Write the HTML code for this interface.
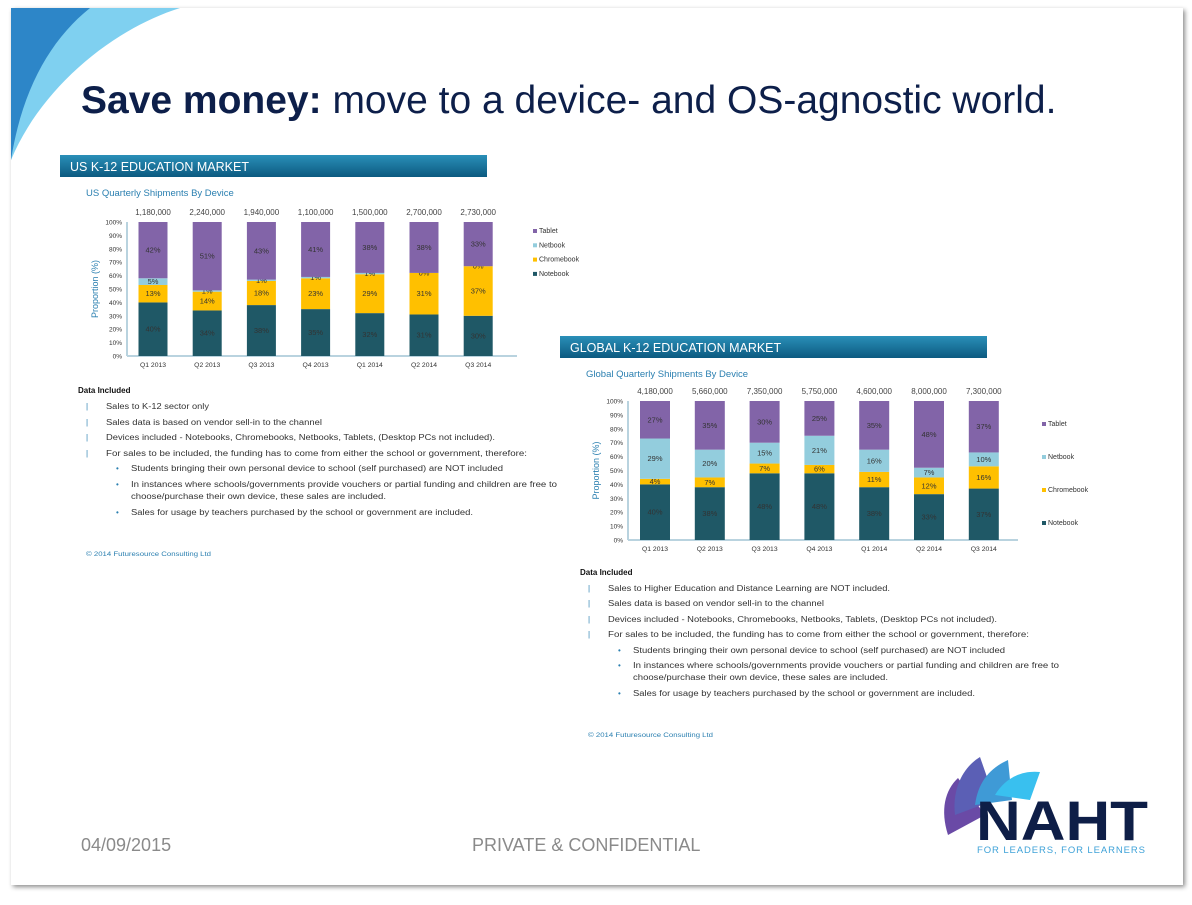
<!DOCTYPE html>
<html><head><meta charset="utf-8">
<style>
html,body{margin:0;padding:0;background:#fff;}
body{width:1192px;height:900px;overflow:hidden;font-family:"Liberation Sans",sans-serif;}
svg text{font-family:"Liberation Sans",sans-serif;}
</style></head>
<body>
<svg id="slide" width="1192" height="900" viewBox="0 0 1192 900" xmlns="http://www.w3.org/2000/svg">
<defs>
 <linearGradient id="hdr" x1="0" y1="0" x2="0" y2="1"><stop offset="0" stop-color="#2a8fb8"/><stop offset="1" stop-color="#0c5a80"/></linearGradient>
 <filter id="sh" x="-5%" y="-5%" width="110%" height="110%"><feDropShadow dx="2" dy="2" stdDeviation="2.5" flood-color="#000" flood-opacity="0.45"/></filter>
</defs>
<rect x="0" y="0" width="1192" height="900" fill="#ffffff"/>
<rect x="11" y="8" width="1172" height="877" fill="#fff" filter="url(#sh)"/>
<g>
 <path d="M11 8 L180 8 C110 30 40 90 11 160 Z" fill="#7fd0f0"/>
 <path d="M11 8 L90 8 C50 40 22 90 11 160 Z" fill="#2d86c8"/>
</g>
<text x="81" y="113" font-size="39" fill="#0d1f4a"><tspan font-weight="bold">Save money:</tspan> move to a device- and OS-agnostic world.</text>

<g id="us"></g>
<g id="gl"></g>
<g id="notes"></g>

<text x="81" y="851" font-size="18" fill="#8a8a8a">04/09/2015</text>
<text x="472" y="851" font-size="18" fill="#8a8a8a">PRIVATE &amp; CONFIDENTIAL</text>
<g>
 <path d="M948 835 C940 810 945 790 958 778 L985 815 Z" fill="#6a4aa6"/>
 <path d="M955 815 C952 790 962 768 980 757 L995 800 Z" fill="#5b5fb5"/>
 <path d="M975 805 C978 782 990 768 1008 760 L1012 800 Z" fill="#3f9ad6"/>
 <path d="M995 795 C1005 778 1022 770 1040 772 L1030 800 Z" fill="#39c0ef"/>
 <text x="976" y="840" font-size="56" font-weight="bold" fill="#0e1e47" textLength="172" lengthAdjust="spacingAndGlyphs">NAHT</text>
 <text x="977" y="853" font-size="9.5" fill="#3ea2d8" textLength="168">FOR LEADERS, FOR LEARNERS</text>
</g>
</svg>
<script>
const NS="http://www.w3.org/2000/svg";
const quarters=["Q1 2013","Q2 2013","Q3 2013","Q4 2013","Q1 2014","Q2 2014","Q3 2014"];
const usTotals=["1,180,000","2,240,000","1,940,000","1,100,000","1,500,000","2,700,000","2,730,000"];
const usNotebook=[40,34,38,35,32,31,30];
const usChromebook=[13,14,18,23,29,31,37];
const usNetbook=[5,1,1,1,1,0,0];
const usTablet=[42,51,43,41,38,38,33];
const glTotals=["4,180,000","5,660,000","7,350,000","5,750,000","4,600,000","8,000,000","7,300,000"];
const glNotebook=[40,38,48,48,38,33,37];
const glChromebook=[4,7,7,6,11,12,16];
const glNetbook=[29,20,15,21,16,7,10];
const glTablet=[27,35,30,25,35,48,37];
const seriesNames=["Notebook","Chromebook","Netbook","Tablet"];
const seriesColors=["#1f5866","#ffc000","#93cddd","#8264a8"];
const yTicks=[0,10,20,30,40,50,60,70,80,90,100];

function mk(tag,attrs,parent,txt){const e=document.createElementNS(NS,tag);for(const k in attrs)e.setAttribute(k,attrs[k]);if(txt!==undefined)e.textContent=txt;parent.appendChild(e);return e;}

function drawChart(g,cfg,series,totals){
  const y=v=>cfg.y0-(cfg.y0-cfg.y100)*v/100;
  const x=i=>cfg.x0+cfg.step*i;
  const h=mk('rect',{x:cfg.hx,y:cfg.hy,width:427,height:22,fill:'url(#hdr)'},g);
  
  
  const ht=mk('text',{x:cfg.hx+10,y:cfg.hy+16,'font-size':12.5,fill:'#fff'},g,cfg.title);
  
  
  const st=mk('text',{x:cfg.hx+26,y:cfg.hy+41,'font-size':9.5,fill:'#2a7fb0'},g,cfg.sub);
  
  
  yTicks.forEach(t=>{const tt=mk('text',{x:cfg.ax-5,y:y(t)+2.5,'font-size':6.5,'text-anchor':'end',fill:'#333'},g,t+'%');
    
    });
  const yl=mk('text',{transform:`translate(${cfg.ax-29},${(cfg.y0+cfg.y100)/2}) rotate(-90)`,'font-size':9,'text-anchor':'middle',fill:'#2a7fb0'},g,'Proportion (%)');
  
  
  const a1=mk('line',{x1:cfg.ax,y1:cfg.y100,x2:cfg.ax,y2:cfg.y0,stroke:'#b9d3df','stroke-width':2},g);
  
  
  const a2=mk('line',{x1:cfg.ax,y1:cfg.y0,x2:cfg.ax+390,y2:cfg.y0,stroke:'#b9d3df','stroke-width':2},g);
  
  
  quarters.forEach((q,i)=>{
    let cum=0;
    series.forEach((s,si)=>{
      const v=s[i];const top=y(cum+v),bot=y(cum);
      const r=mk('rect',{x:x(i)-cfg.bw/2,y:top,width:cfg.bw,height:Math.max(0,bot-top),fill:seriesColors[si]},g);
      
      
      const lt=mk('text',{x:x(i),y:(top+bot)/2+2.5,'font-size':7.5,'text-anchor':'middle',fill:'#333'},g,v+'%');
      
      
      cum+=v;
    });
    const tl=mk('text',{x:x(i),y:cfg.y100-7,'font-size':8,'text-anchor':'middle',fill:'#444'},g,totals[i]);
    
    
    const ql=mk('text',{x:x(i),y:cfg.y0+11,'font-size':6.8,'text-anchor':'middle',fill:'#333'},g,q);
    
    
  });
  for(let k=3;k>=0;k--){
    const ly=cfg.ly+(3-k)*cfg.lstep;
    const sw=mk('rect',{x:cfg.lx,y:ly-4,width:4,height:4,fill:seriesColors[k]},g);
    
    
    const lt=mk('text',{x:cfg.lx+6,y:ly,'font-size':7,fill:'#333'},g,seriesNames[k]);
    
    
  }
}
drawChart(document.getElementById('us'),{title:'US K-12 EDUCATION MARKET',sub:'US Quarterly Shipments By Device',hx:60,hy:155,x0:153,step:54.2,bw:29,y0:356,y100:222,ax:127,lx:533,ly:233,lstep:14.3},[usNotebook,usChromebook,usNetbook,usTablet],usTotals);
drawChart(document.getElementById('gl'),{title:'GLOBAL K-12 EDUCATION MARKET',sub:'Global Quarterly Shipments By Device',hx:560,hy:336,x0:655,step:54.8,bw:30,y0:540,y100:401,ax:628,lx:1042,ly:426,lstep:33},[glNotebook,glChromebook,glNetbook,glTablet],glTotals);

function notes(dx,ys,first){
  const g=document.getElementById('notes');
  const t=(x,y,s,w,opt)=>{const a={x:x+dx,y:y,'font-size':8,fill:'#333'};if(w){a.textLength=w;a.lengthAdjust='spacingAndGlyphs';}if(opt)Object.assign(a,opt);const e=mk('text',a,g,s);
    
    return e;};
  t(78,ys[0],'Data Included',0,{'font-weight':'bold',fill:'#111'});
  const items=[first,'Sales data is based on vendor sell-in to the channel','Devices included - Notebooks, Chromebooks, Netbooks, Tablets, (Desktop PCs not included).','For sales to be included, the funding has to come from either the school or government, therefore:'];
  const iw=[first.length>30?282:103,216,389,421];
  items.forEach((s,i)=>{t(86,ys[1+i],'|',0,{fill:'#2a7fb0'});t(106,ys[1+i],s,iw[i]);});
  const b=[['Students bringing their own personal device to school (self purchased) are NOT included',372],['In instances where schools/governments provide vouchers or partial funding and children are free to',426]];
  t(116,ys[5],'•',0,{fill:'#2a7fb0'});t(131,ys[5],b[0][0],b[0][1]);
  t(116,ys[6],'•',0,{fill:'#2a7fb0'});t(131,ys[6],b[1][0],b[1][1]);
  t(131,ys[7],'choose/purchase their own device, these sales are included.',255);
  t(116,ys[8],'•',0,{fill:'#2a7fb0'});t(131,ys[8],'Sales for usage by teachers purchased by the school or government are included.',342);
  t(86,ys[9],'© 2014 Futuresource Consulting Ltd',125,{'font-size':6.5,fill:'#2a7fb0'});
}
notes(0,[393,409,425,440,456,471,487,499,515,556],'Sales to K-12 sector only');
notes(502,[575,591,606,622,637,653,668,680,696,737],'Sales to Higher Education and Distance Learning are NOT included.');
</script>
</body></html>
